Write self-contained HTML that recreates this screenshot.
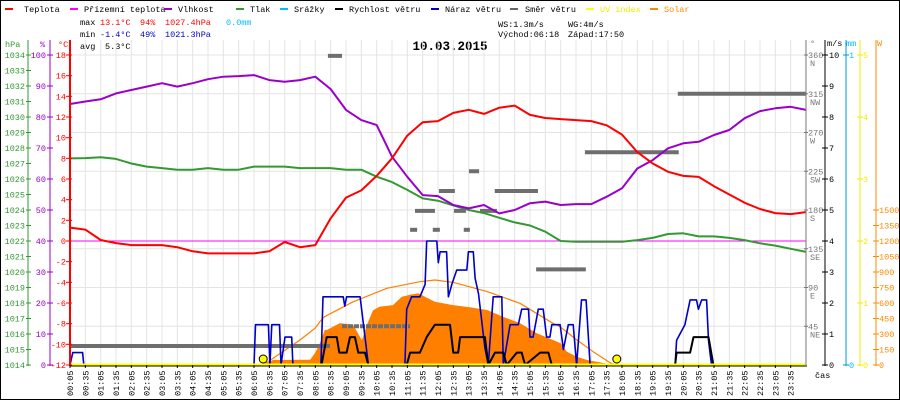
<!DOCTYPE html>
<html><head><meta charset="utf-8"><style>
html,body{margin:0;padding:0;background:#fff}
svg{display:block;font-family:"Liberation Mono",monospace;font-size:8.5px}
</style></head><body>
<svg id="c" width="900" height="400" viewBox="0 0 900 400">
<rect x="0.5" y="0.5" width="899" height="399" fill="#fff" stroke="#000"/>
<g id="legend">
 <g><rect x="5" y="8" width="8" height="2" fill="#f00"/><text x="24" y="12">Teplota</text></g>
 <g><rect x="70" y="8" width="8" height="2" fill="#f0f"/><text x="84" y="12">Přízemní teplota</text></g>
 <g><rect x="164" y="8" width="8" height="2" fill="#90c"/><text x="178" y="12">Vlhkost</text></g>
 <g><rect x="236" y="8" width="8" height="2" fill="#393"/><text x="250" y="12">Tlak</text></g>
 <g><rect x="280" y="8" width="8" height="2" fill="#0bf"/><text x="294" y="12">Srážky</text></g>
 <g><rect x="335" y="8" width="8" height="2" fill="#000"/><text x="349" y="12">Rychlost větru</text></g>
 <g><rect x="431" y="8" width="8" height="2" fill="#00c"/><text x="445" y="12">Náraz větru</text></g>
 <g><rect x="510" y="8" width="8" height="2" fill="#666"/><text x="525" y="12">Směr větru</text></g>
 <g><rect x="586" y="8" width="8" height="2" fill="#ff0"/><text x="600" y="12" fill="#ee0">UV index</text></g>
 <g><rect x="650" y="8" width="8" height="2" fill="#f80"/><text x="664" y="12" fill="#f80">Solar</text></g>
</g>
<g>
 <text x="80" y="25">max</text><text x="100" y="25" fill="#f00">13.1°C</text><text x="140" y="25" fill="#f00">94%</text><text x="165" y="25" fill="#f00">1027.4hPa</text><text x="226" y="25" fill="#0bf">0.0mm</text>
 <text x="80" y="37">min</text><text x="100" y="37" fill="#00c">-1.4°C</text><text x="140" y="37" fill="#00c">49%</text><text x="165" y="37" fill="#00c">1021.3hPa</text>
 <text x="80" y="49">avg</text><text x="105" y="49">5.3°C</text>
 <text x="498" y="27">WS:1.3m/s</text><text x="568" y="27">WG:4m/s</text>
 <text x="498" y="37">Východ:06:18</text><text x="568" y="37">Západ:17:50</text>
</g>
<text x="450" y="50" text-anchor="middle" font-weight="bold" font-size="12.5">10.03.2015</text>
<g id="grid"></g>
<g id="series"></g>
<g id="axes"></g>
</svg>
<script>
const hours = [0,0.5,1,1.5,2,2.5,3,3.5,4,4.5,5,5.5,6,6.5,7,7.5,8,8.5,9,9.5,10,10.5,11,11.5,12,12.5,13,13.5,14,14.5,15,15.5,16,16.5,17,17.5,18,18.5,19,19.5,20,20.5,21,21.5,22,22.5,23,23.5,24];
const tempVals = [1.3,1.1,0.1,-0.2,-0.4,-0.4,-0.4,-0.6,-1.0,-1.2,-1.2,-1.2,-1.2,-1.0,-0.1,-0.6,-0.4,2.2,4.2,4.9,6.3,8.0,10.2,11.5,11.6,12.4,12.7,12.3,12.9,13.1,12.2,11.9,11.8,11.7,11.6,11.2,10.3,8.6,7.5,6.7,6.3,6.2,5.3,4.5,3.7,3.1,2.7,2.6,2.8];
const humVals = [84.2,85,85.7,87.6,88.7,89.8,90.9,89.8,90.9,92.2,93,93.2,93.5,91.9,91.4,91.9,93,89,82.3,79,77.4,67.2,60.7,54.8,54.5,51.6,50.5,51.6,48.9,50,52.2,52.7,51.6,51.9,51.9,54.3,57,63.4,66.1,69.9,71.5,72,74.2,75.8,79.6,81.9,82.8,83.3,82.3];
const presVals = [1027.33,1027.35,1027.4,1027.3,1027.0,1026.8,1026.7,1026.6,1026.6,1026.7,1026.6,1026.6,1026.8,1026.8,1026.8,1026.7,1026.7,1026.7,1026.6,1026.6,1026.15,1025.8,1025.3,1024.75,1024.6,1024.3,1024.0,1023.8,1023.5,1023.2,1023.0,1022.6,1022.0,1021.95,1021.95,1021.95,1021.95,1022.06,1022.2,1022.45,1022.5,1022.3,1022.3,1022.2,1022.06,1021.85,1021.7,1021.5,1021.3];
const apparentVals = [0,0];
const apparentT = [0,24];
const gustT = [0,0.09,0.41,0.45,6.0,6.05,6.47,6.52,6.58,6.83,6.88,7.01,7.23,7.27,8.18,8.25,8.91,8.96,9.02,9.46,9.73,10.92,10.98,11.14,11.41,11.58,11.63,11.96,12.01,12.07,12.12,12.28,12.34,12.45,12.61,12.94,12.99,13.15,13.21,13.32,13.53,13.64,13.8,14.08,14.13,14.35,14.62,14.73,14.95,15.0,15.1,15.27,15.43,15.54,15.65,15.71,15.98,16.09,16.25,16.41,16.52,16.68,16.83,16.96,19.73,19.78,20.05,20.22,20.43,20.49,20.6,20.76,20.82,20.92,24];
const gustV = [0,0.4,0.4,0,0,1.3,1.3,0,1.3,1.3,0,0.9,0.9,0,0,2.2,2.2,1.9,2.2,2.2,0,0,1.8,2.2,2.2,2.6,4.0,4.0,3.3,3.65,3.65,3.65,2.2,2.6,3.06,3.06,3.65,3.65,2.8,2.3,0.55,0,2.2,2.2,0,1.3,1.3,1.8,1.8,0.9,0.9,1.8,1.8,0.9,0.9,1.3,1.3,0.5,1.3,1.3,0,2.1,2.1,0,0,0.8,1.3,2.1,2.1,1.8,2.1,2.1,0.8,0,0];
const windT = [0,8.2,8.37,8.7,8.78,9.02,9.13,9.29,9.4,9.62,9.73,10.98,11.09,11.41,11.63,11.9,12.39,12.5,12.66,12.72,13.53,13.64,13.86,14.13,14.24,14.57,14.73,14.84,15.33,15.6,15.71,19.73,19.78,20.22,20.33,20.82,20.98,24];
const windV = [0,0,0.9,0.9,0.4,0.4,0.9,0.9,0.4,0.4,0,0,0.4,0.4,0.9,1.3,1.3,0.4,0.4,0.9,0.9,0,0.4,0.4,0,0.4,0.4,0,0.4,0.4,0,0,0.4,0.4,0.9,0.9,0,0];
const solarT = [6.29,6.62,7.83,7.99,8.15,8.31,8.38,8.8,9.23,9.52,9.68,9.88,10.1,10.53,10.82,11.09,11.35,11.64,11.9,12.49,13.04,13.6,14.12,14.67,15.23,15.75,16.0,16.2,16.53,16.86,17.38,17.7];
const solarW = [0,48,50,115,210,340,340,405,390,240,390,530,565,580,660,680,695,650,612,580,558,532,467,405,306,242,210,130,80,48,20,0];
const theoT = [6.3,7.5,8.0,8.15,8.3,9.23,10.33,11.41,11.9,12.49,13.6,14.67,15.75,15.98,16.53,17.06,17.62,17.85];
const theoW = [0,242,358,420,467,612,742,806,823,800,710,597,404,371,242,129,20,0];
const dirStart = [0,8.87,8.41,13.01,12.03,13.85,11.25,12.52,13.37,11.09,11.83,12.84,15.2,16.79,19.82];
const dirEnd = [8.48,11.09,8.87,13.34,12.55,15.26,11.9,12.91,13.92,11.32,12.06,13.04,16.82,19.85,24];
const dirVal = [22,45,359,225,202,202,179,179,179,157,157,157,111,247,315];
const uvEventT = [6.3,17.83];
const uvEventV = [0.1,0.1];
const xTickLabels = ["00:05","00:35","01:05","01:35","02:05","02:35","03:05","03:35","04:05","04:35","05:05","05:35","06:05","06:35","07:05","07:35","08:05","08:35","09:05","09:35","10:05","10:35","11:05","11:35","12:05","12:35","13:05","13:35","14:05","14:35","15:05","15:35","16:05","16:35","17:05","17:35","18:05","18:35","19:05","19:35","20:05","20:35","21:05","21:35","22:05","22:35","23:05","23:35"];
const hpaTicks = [1014,1015,1016,1017,1018,1019,1020,1021,1022,1023,1024,1025,1026,1027,1028,1029,1030,1031,1032,1033,1034];
const humTicks = [0,10,20,30,40,50,60,70,80,90,100];
const tempTicks = [-12,-10,-8,-6,-4,-2,0,2,4,6,8,10,12,14,16,18];
const dirTicks = [45,90,135,180,225,270,315,360];
const dirNames = ["NE","E","SE","S","SW","W","NW","N"];
const msTicks = [0,1,2,3,4,5,6,7,8,9,10];
const uvTicks = [0,1,2,3,4,5];
const wTicks = [0,150,300,450,600,750,900,1050,1200,1350,1500];

const NS='http://www.w3.org/2000/svg';
const X0=70,X1=806,Y0=55,Y1=365;
const X=h=>X0+h*(X1-X0)/24;
const yT=t=>241-t*(Y1-Y0)/30;
const yH=v=>Y1-v*(Y1-Y0)/100;
const yP=p=>Y1-(p-1014)*(Y1-Y0)/20;
const yWs=v=>Y1-v*(Y1-Y0)/10;
const yD=d=>Y1-d*(Y1-Y0)/360;
const yS=w=>Y1-w*155/1500;
const yUV=u=>Y1-u*(Y1-Y0)/5;
function mk(tag,attrs,parent){const e=document.createElementNS(NS,tag);for(const k in attrs)e.setAttribute(k,attrs[k]);parent.appendChild(e);return e;}
const grid=document.getElementById('grid'),ser=document.getElementById('series'),ax=document.getElementById('axes');

for(let i=0;i<=48;i++){const l=mk('line',{x1:X(i/2),x2:X(i/2),y1:40,y2:Y1,stroke:'#e4e4e4','stroke-width':1},grid);

}
for(let k=0;k<8;k++){const y=Y0+k*(Y1-Y0)/8;const l=mk('line',{x1:X0,x2:X1,y1:y,y2:y,stroke:'#e4e4e4','stroke-width':1},grid);

}

// solar area
let d='M'+X(solarT[0])+','+Y1;solarT.forEach((t,i)=>{d+=' L'+X(t).toFixed(1)+','+yS(solarW[i]).toFixed(1);});d+=' L'+X(solarT[solarT.length-1])+','+Y1+'Z';
const sa=mk('path',{d:d,fill:'#ff8000',stroke:'none'},ser);


function pl(ts,vs,yf,color,w,name){const pts=ts.map((t,i)=>X(t).toFixed(1)+','+yf(vs[i]).toFixed(1)).join(' ');const p=mk('polyline',{points:pts,fill:'none',stroke:color,'stroke-width':w,'stroke-linejoin':'round'},ser);

return p;}
pl(theoT,theoW,yS,'#ff8000',1.2,'theoretical-solar-line');
// wind direction bars
dirVal.forEach((v,i)=>{const l=mk('line',{x1:X(dirStart[i]),x2:X(dirEnd[i]),y1:yD(v),y2:yD(v),stroke:'#6e6e6e','stroke-width':4},ser);
if(i===1)l.setAttribute('stroke-dasharray','5,1');

});
pl(apparentT,apparentVals,yT,'#f0f',1,'apparent-temperature-line');
pl(hours,presVals,yP,'#393',2,'pressure-line');
pl(hours,humVals,yH,'#90c',2,'humidity-line');
pl(hours,tempVals,yT,'#f00',2,'temperature-line');
pl(gustT,gustV,yWs,'#00c',1.6,'wind-gust-line');
pl(windT,windV,yWs,'#000',2,'wind-speed-line');
const uvl=mk('line',{x1:X0,x2:X1,y1:Y1-0.5,y2:Y1-0.5,stroke:'#ff0','stroke-width':2},ser);


uvEventT.forEach((t,i)=>{const c=mk('circle',{cx:X(t),cy:Y1-6,r:4,fill:'#ff0',stroke:'#000','stroke-width':1},ser);

});

// axes
mk('line',{x1:X0,x2:X1+1,y1:Y1+1,y2:Y1+1,stroke:'#000','stroke-width':1},ax);
function vaxis(x,color,w){mk('line',{x1:x,x2:x,y1:40,y2:Y1+1,stroke:color,'stroke-width':w},ax);}
vaxis(28,'#393',1);vaxis(50,'#90c',1);vaxis(X0,'#f00',2);vaxis(X1,'#777',1);vaxis(825,'#000',1);vaxis(846,'#09d',1);vaxis(860,'#ee0',1);vaxis(876,'#f80',1);
function lab(x,y,txt,color,anchor,name){const t=mk('text',{x:x,y:y,fill:color,'text-anchor':anchor||'start'},ax);t.textContent=txt;

return t;}
hpaTicks.forEach(v=>{const y=yP(v);mk('line',{x1:26,x2:31,y1:y,y2:y,stroke:'#393'},ax);lab(25,y+3,v,'#393','end','hpa-tick-label');});
humTicks.forEach(v=>{const y=yH(v);mk('line',{x1:47,x2:53,y1:y,y2:y,stroke:'#90c'},ax);lab(46,y+3,v,'#90c','end','humidity-tick-label');});
tempTicks.forEach(v=>{const y=yT(v);mk('line',{x1:66,x2:72,y1:y,y2:y,stroke:'#f00'},ax);lab(66,y+3,v,'#f00','end','temp-tick-label');});
dirTicks.forEach((v,i)=>{const y=yD(v);mk('line',{x1:804,x2:808,y1:y,y2:y,stroke:'#777'},ax);lab(808,y+3,v,'#777','start','direction-tick-label');lab(810,y+11,dirNames[i],'#777','start','direction-name-label');});
msTicks.forEach(v=>{const y=yWs(v);mk('line',{x1:822,x2:828,y1:y,y2:y,stroke:'#000'},ax);lab(829,y+3,v,'#000','start','wind-speed-tick-label');});
[0,1].forEach(v=>{const y=Y1-v*(Y1-Y0);mk('line',{x1:843,x2:849,y1:y,y2:y,stroke:'#09d'},ax);lab(849,y+3,v,'#0bf','start','rain-tick-label');});
uvTicks.forEach(v=>{const y=yUV(v);mk('line',{x1:857,x2:863,y1:y,y2:y,stroke:'#ee0'},ax);lab(863,y+3,v,'#ee0','start','uv-tick-label');});
wTicks.forEach(v=>{const y=yS(v);mk('line',{x1:873,x2:879,y1:y,y2:y,stroke:'#f80'},ax);lab(879,y+3,v,'#f80','start','solar-tick-label');});
lab(5,47,'hPa','#393','start','hpa-axis-title');lab(40,47,'%','#90c','start','humidity-axis-title');lab(58,47,'°C','#f00','start','temp-axis-title');
lab(810,46,'°','#777','start','direction-axis-title');lab(827,46,'m/s','#000','start','wind-axis-title');lab(846,46,'mm','#0bf','start','rain-axis-title');lab(877,46,'W','#f80','start','solar-axis-title');
lab(815,378,'čas','#000','start','x-axis-title');
xTickLabels.forEach((s,i)=>{const x=X(i/2);mk('line',{x1:x,x2:x,y1:Y1,y2:Y1+3,stroke:'#000'},ax);
const t=mk('text',{transform:'translate('+(x+3)+',396) rotate(-90)',fill:'#000'},ax);t.textContent=s;

});
</script>
</body></html>
